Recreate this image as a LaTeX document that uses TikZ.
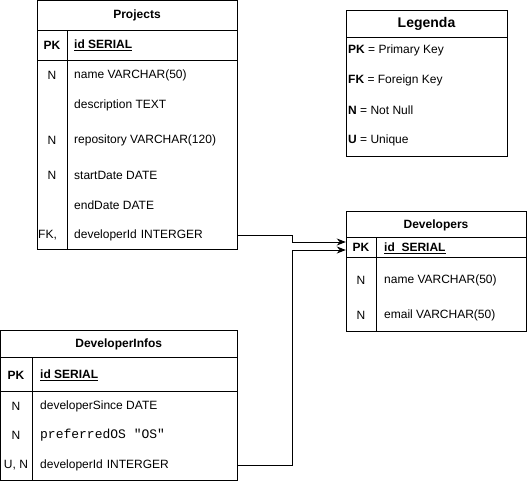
\documentclass[tikz,border=0pt]{standalone}
\usepackage{fontspec}
\setmainfont{Liberation Sans}
\setmonofont{Liberation Mono}
\usetikzlibrary{arrows.meta, positioning}

\tikzset{
  tbl/.style={draw, line width=1pt, inner sep=0pt},
  rowline/.style={line width=1pt},
  titlecell/.style={font=\fontsize{12}{14}\selectfont\bfseries, inner sep=0pt},
  keycell/.style={font=\fontsize{12}{14}\selectfont, inner sep=0pt},
  fieldcell/.style={font=\fontsize{12}{14}\selectfont, inner sep=0pt, anchor=west},
  fkline/.style={line width=1pt, -{Stealth[length=9pt, width=7pt]}},
}

\begin{document}
\begin{tikzpicture}[x=1pt, y=-1pt]
  \useasboundingbox (0,0) rectangle (528,482);

  % Projects
  \node[tbl, minimum width=200pt, minimum height=249pt] (prj) at (137,124.5) {};
  \draw[rowline] (37,30) -- (237,30);
  \draw[rowline] (37,60) -- (237,60);
  \draw[rowline] (67,30) -- (67,249);
  \node[titlecell] (prj-title) at (137,15) {Projects};
  \node[keycell] (prj-pk) at (52,45) {\textbf{PK}};
  \node[fieldcell] (prj-id) at (74,45) {\textbf{\underline{id SERIAL}}};
  \foreach \y/\k/\f [count=\i] in {75/N/name VARCHAR(50), 105//description TEXT,
      140/N/repository VARCHAR(120), 175/N/startDate DATE, 205//endDate DATE}
  {
    \node[keycell] (prj-k\i) at (52,\y) {\k};
    \node[fieldcell] (prj-f\i) at (74,\y) {\f};
  }
  \node[fieldcell] (prj-fk) at (38,235) {FK,};
  \node[fieldcell, text width=163pt] (prj-devid) at (74,235) {developerId INTERGER};

  % Legenda
  \node[tbl, minimum width=161pt, minimum height=146pt] (leg) at (426.5,83) {};
  \draw[rowline] (346,37) -- (507,37);
  \node[titlecell, font=\fontsize{14}{16}\selectfont\bfseries] (leg-title) at (426.5,24) {Legenda};
  \node[fieldcell] (leg-pk) at (348,50) {\textbf{PK} = Primary Key};
  \node[fieldcell] (leg-fk) at (348,80) {\textbf{FK} = Foreign Key};
  \node[fieldcell] (leg-n) at (348,110) {\textbf{N} = Not Null};
  \node[fieldcell] (leg-u) at (348,140) {\textbf{U} = Unique};

  % Developers
  \node[tbl, minimum width=180pt, minimum height=120pt] (dev) at (436,271) {};
  \draw[rowline] (346,237) -- (526,237);
  \draw[rowline] (346,257) -- (526,257);
  \draw[rowline] (376,237) -- (376,331);
  \node[titlecell] (dev-title) at (436,225) {Developers};
  \node[keycell, minimum width=30pt, minimum height=20pt] (dev-pk) at (361,247) {\textbf{PK}};
  \node[fieldcell] (dev-id) at (384,248) {\textbf{\underline{id\ \ SERIAL}}};
  \node[keycell] (dev-k1) at (361,280) {N};
  \node[fieldcell] (dev-name) at (384,280) {name VARCHAR(50)};
  \node[keycell] (dev-k2) at (361,315) {N};
  \node[fieldcell] (dev-email) at (384,315) {email VARCHAR(50)};

  % DeveloperInfos
  \node[tbl, minimum width=236.5pt, minimum height=150pt] (inf) at (118.75,405) {};
  \draw[rowline] (0.5,357) -- (237,357);
  \draw[rowline] (0.5,391) -- (237,391);
  \draw[rowline] (32,357) -- (32,480);
  \node[titlecell] (inf-title) at (118.75,344) {DeveloperInfos};
  \node[keycell] (inf-pk) at (16,375) {\textbf{PK}};
  \node[fieldcell] (inf-id) at (40,375) {\textbf{\underline{id SERIAL}}};
  \node[keycell] (inf-k1) at (16,406) {N};
  \node[fieldcell] (inf-since) at (40,406) {developerSince DATE};
  \node[keycell] (inf-k2) at (16,435) {N};
  \node[fieldcell, font=\fontsize{13}{15}\selectfont\ttfamily] (inf-os) at (40,435) {preferredOS "OS"};
  \node[keycell] (inf-k3) at (16,465) {U, N};
  \node[fieldcell, text width=197pt] (inf-devid) at (40,465) {developerId INTERGER};

  % foreign keys
  \draw[fkline] (prj-devid.east) -- ++(55,0) |- ([yshift=5pt]dev-pk.west);
  \draw[fkline] (inf-devid.east) -- ++(55,0) |- ([yshift=-3pt]dev-pk.west);
\end{tikzpicture}
\end{document}
